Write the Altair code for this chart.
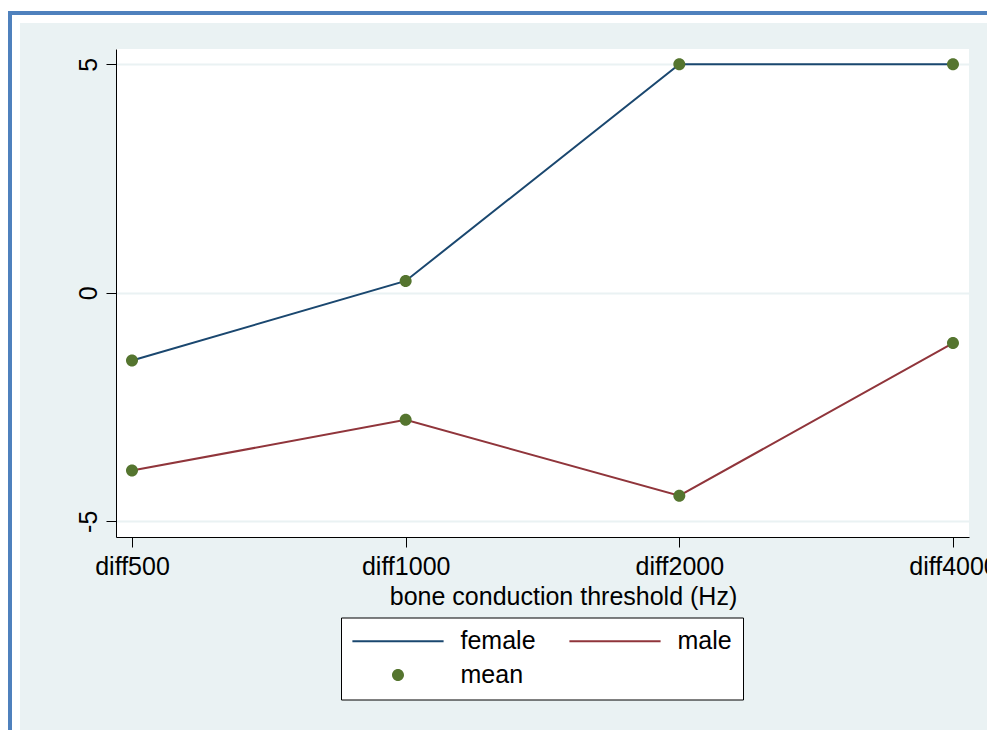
import altair as alt
import pandas as pd

# ---- data ----
categories = ["diff500", "diff1000", "diff2000", "diff4000"]
female = [-1.48, 0.26, 5.0, 5.0]
male = [-3.89, -2.78, -4.44, -1.10]
series_names = ["female", "male"]
legend_labels = ["female", "male", "mean"]
y_ticks = [-5, 0, 5]

NAVY = "#1A476F"
MAROON = "#90353B"
GREEN = "#55752F"
BG = "#EAF2F3"
FRAME = "#4F81BD"
FONT = "Liberation Sans"
FS = 25
# legend keys: a thin bar (line key) and a dot that share the same horizontal extent
LINE_PATH = "M-7.6,-0.17H7.6V0.17H-7.6Z"
DOT_PATH = "M1,0A1,1 0 1,1 -1,0A1,1 0 1,1 1,0Z M-7.6,0L-7.6,0Z M7.6,0L7.6,0Z"

rows = []
for name, vals in zip(series_names, [female, male]):
    for c, v in zip(categories, vals):
        rows.append({"cat": c, "series": name, "value": v, "lbl": "mean"})
df = pd.DataFrame(rows)

W, H = 853, 488
PAD = {"left": 108, "top": 41, "right": 18, "bottom": 193}

x_enc = alt.X(
    "cat:N",
    sort=categories,
    scale=alt.Scale(domain=categories, padding=0.0585),
    axis=alt.Axis(
        title="bone conduction threshold (Hz)",
        labelAngle=0, labelFontSize=FS, labelFont=FONT, labelColor="black",
        labelPadding=7, labelFlush=False, tickSize=10, tickColor="black",
        domainColor="black", grid=False, titleFontSize=FS, titleFont=FONT,
        titleFontWeight="normal", titleColor="black", titlePadding=5, titleX=447,
    ),
)
y_enc = alt.Y(
    "value:Q",
    scale=alt.Scale(domain=[-5.343, 5.335], nice=False, zero=False),
    axis=alt.Axis(
        title=None, values=y_ticks, labelAngle=270, labelAlign="center",
        labelBaseline="alphabetic", labelFontSize=FS, labelFont=FONT,
        labelExpr="(datum.value < 0 ? '-' : '') + abs(datum.value)",
        labelColor="black", labelPadding=10, tickSize=10, tickColor="black",
        domainColor="black", grid=True, gridColor=BG, gridWidth=2,
    ),
)


def deco(x, x2, y, y2, color):
    return alt.Chart(alt.Data(values=[{"k": 0}])).mark_rect(
        color=color, strokeWidth=0
    ).encode(x=alt.value(x), x2=alt.value(x2), y=alt.value(y), y2=alt.value(y2))


frame = [
    deco(-130, -96, -60, 700, "white"),
    deco(-130, 900, -60, -26, "white"),
    deco(-130, -104, -38, 700, FRAME),
    deco(-130, 900, -38, -34, FRAME),
]

lines = alt.Chart(df).mark_line(strokeWidth=2).encode(
    x=x_enc,
    y=y_enc,
    stroke=alt.Stroke(
        "series:N",
        scale=alt.Scale(domain=series_names, range=[NAVY, MAROON]),
        legend=None,
    ),
)


def make_legend():
    return alt.Legend(
        title=None, orient="none", legendX=225, legendY=568.5, columns=2,
        direction="horizontal",
        fillColor="white", strokeColor="black", padding=11,
        symbolSize=144, symbolStrokeWidth=0, symbolOffset=33.5, labelOffset=50,
        labelFontSize=FS, labelFont=FONT, labelColor="black", labelLimit=400,
        columnPadding=33, rowPadding=8, symbolOpacity=1, cornerRadius=0,
    )


points = alt.Chart(df).mark_point(filled=True, size=144, opacity=1).encode(
    x=x_enc,
    y=y_enc,
    color=alt.Color(
        "lbl:N",
        scale=alt.Scale(domain=legend_labels, range=[NAVY, MAROON, GREEN]),
        legend=make_legend(),
    ),
    shape=alt.Shape(
        "lbl:N",
        scale=alt.Scale(domain=legend_labels, range=[LINE_PATH, LINE_PATH, DOT_PATH]),
        legend=make_legend(),
    ),
)

chart = alt.layer(*frame, lines, points).properties(
    width=W,
    height=H,
    padding=PAD,
    autosize=alt.AutoSizeParams(type="none"),
    background=BG,
).configure_view(fill="white", strokeWidth=0)

chart.save("out.html", embed_options={"renderer": "svg", "actions": False})
